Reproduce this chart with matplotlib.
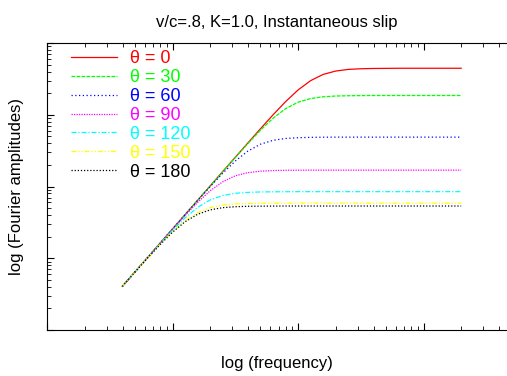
import numpy as np
import matplotlib
matplotlib.use('Agg')
import matplotlib.pyplot as plt

plt.rcParams['font.family'] = ['Liberation Sans', 'DejaVu Sans']

# log10 of frequency (shared by all curves)
log_freq = [-1.4, -1.3, -1.2, -1.1, -1.0, -0.9, -0.8, -0.7, -0.6, -0.5, -0.4, -0.3,
            -0.2, -0.1, 0.0, 0.1, 0.2, 0.3, 0.4, 0.5, 0.6, 0.8, 1.0, 1.3]

# log10 of Fourier amplitude, one list per angle
amp_0 = [-2.392, -2.192, -1.992, -1.792, -1.592, -1.392, -1.192, -0.992, -0.792, -0.593,
         -0.394, -0.197, -0.003, 0.181, 0.345, 0.475, 0.562, 0.609, 0.632, 0.641,
         0.645, 0.648, 0.648, 0.648]
amp_30 = [-2.392, -2.192, -1.992, -1.792, -1.592, -1.392, -1.192, -0.993, -0.794, -0.596,
          -0.402, -0.217, -0.050, 0.084, 0.175, 0.226, 0.250, 0.261, 0.265, 0.267,
          0.268, 0.268, 0.268, 0.268]
amp_60 = [-2.392, -2.192, -1.992, -1.792, -1.593, -1.394, -1.196, -1.002, -0.815, -0.646,
          -0.507, -0.411, -0.357, -0.331, -0.320, -0.315, -0.313, -0.312, -0.312, -0.312,
          -0.312, -0.312, -0.312, -0.312]
amp_90 = [-2.392, -2.192, -1.993, -1.794, -1.597, -1.404, -1.222, -1.060, -0.934, -0.851,
          -0.807, -0.787, -0.778, -0.774, -0.773, -0.772, -0.772, -0.772, -0.772, -0.772,
          -0.772, -0.772, -0.772, -0.772]
amp_120 = [-2.393, -2.193, -1.995, -1.800, -1.611, -1.437, -1.291, -1.187, -1.126, -1.095,
           -1.082, -1.076, -1.074, -1.073, -1.072, -1.072, -1.072, -1.072, -1.072, -1.072,
           -1.072, -1.072, -1.072, -1.072]
amp_150 = [-2.393, -2.195, -1.999, -1.808, -1.631, -1.478, -1.365, -1.295, -1.259, -1.243,
           -1.237, -1.234, -1.233, -1.232, -1.232, -1.232, -1.232, -1.232, -1.232, -1.232,
           -1.232, -1.232, -1.232, -1.232]
amp_180 = [-2.393, -2.195, -2.000, -1.811, -1.637, -1.491, -1.387, -1.326, -1.295, -1.282,
           -1.276, -1.274, -1.273, -1.272, -1.272, -1.272, -1.272, -1.272, -1.272, -1.272,
           -1.272, -1.272, -1.272, -1.272]

angles = [0, 30, 60, 90, 120, 150, 180]
series = [amp_0, amp_30, amp_60, amp_90, amp_120, amp_150, amp_180]
colors = ['#ff0000', '#00ff00', '#0000ff', '#ff00ff', '#00ffff', '#ffff00', '#000000']
dashes = [(None, None), (3, 1), (1, 2), (1, 1), (4, 1.5, 1, 1.5), (4, 1.5, 1, 1.5, 1, 1.5), (1, 1.5)]

fig = plt.figure(figsize=(5.07, 3.76), dpi=100)
ax = fig.add_axes([47 / 507, 46 / 376, 460 / 507, 287 / 376])

freq = 10 ** np.array(log_freq)
for ang, amp, c, d in zip(angles, series, colors, dashes):
    line, = ax.plot(freq, 10 ** np.array(amp), color=c, lw=0.9, label=f'θ = {ang}')
    if d[0] is not None:
        line.set_dashes(d)

ax.set_xscale('log')
ax.set_yscale('log')
ax.set_xlim(1e-2, 10 ** 1.665)
ax.set_ylim(1e-3, 1e1)
ax.spines['right'].set_visible(False)
ax.tick_params(which='both', direction='in', top=True, right=False,
               labelbottom=False, labelleft=False)
ax.tick_params(which='major', length=5, width=0.8)
ax.tick_params(which='minor', length=3, width=0.6)

ax.set_title('v/c=.8, K=1.0, Instantaneous slip', fontsize=12, pad=11.8)
ax.set_xlabel('log (frequency)', fontsize=12, labelpad=18.4)
ax.set_ylabel('log (Fourier amplitudes)', fontsize=12, labelpad=16.4)

ax.legend(loc='upper left', bbox_to_anchor=(0.037, 1.0), frameon=False, fontsize=13,
          handlelength=2.55, handletextpad=0.72, labelspacing=0.105, labelcolor='linecolor',
          borderaxespad=0.0)

plt.savefig('out.png', dpi=100)
